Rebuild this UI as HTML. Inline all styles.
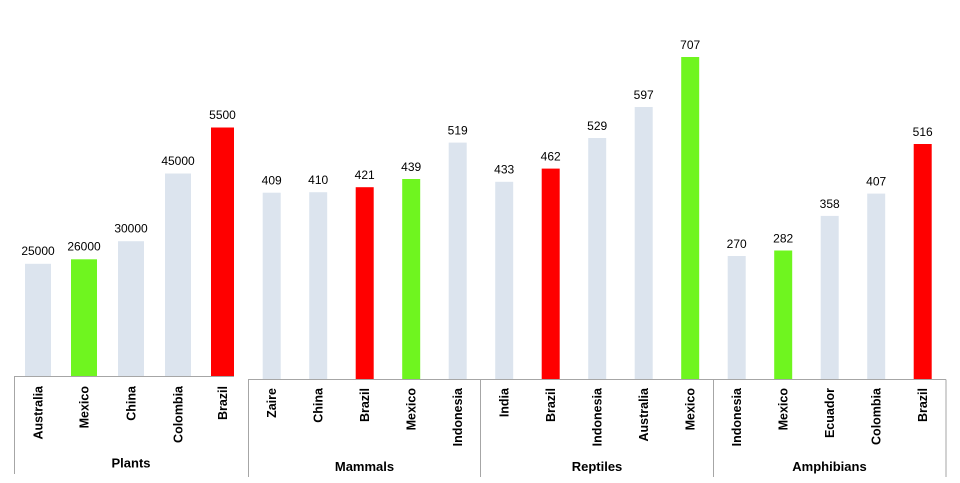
<!DOCTYPE html>
<html>
<head>
<meta charset="utf-8">
<style>
html,body{margin:0;padding:0;background:#fff;}
svg{display:block;}
text{font-family:"Liberation Sans",sans-serif;fill:#000;}
.v{font-size:12px;text-anchor:middle;}
.c{font-size:12.5px;font-weight:bold;text-anchor:end;}
.g{font-size:13px;font-weight:bold;text-anchor:middle;}
</style>
</head>
<body>
<svg width="960" height="483" viewBox="0 0 960 483" xmlns="http://www.w3.org/2000/svg">
<rect width="960" height="483" fill="#fff"/>
<!-- Plants chart -->
<g>
<rect x="25" y="263.8" width="26" height="112.7" fill="#dce4ee"/>
<rect x="71" y="259.3" width="26" height="117.2" fill="#6ff51f"/>
<rect x="118" y="241.2" width="26" height="135.3" fill="#dce4ee"/>
<rect x="165" y="173.5" width="26" height="203" fill="#dce4ee"/>
<rect x="211" y="127.5" width="23" height="249" fill="#ff0000"/>
<text class="v" x="38" y="255">25000</text>
<text class="v" x="84" y="250.5">26000</text>
<text class="v" x="131" y="232.5">30000</text>
<text class="v" x="178" y="165">45000</text>
<text class="v" x="222.5" y="119">5500</text>
<line x1="14" y1="376.5" x2="234" y2="376.5" stroke="#a6a6a6" stroke-width="1"/>
<line x1="14.5" y1="376.5" x2="14.5" y2="474" stroke="#a6a6a6" stroke-width="1"/>
<text class="c" transform="rotate(-90 42.5 386)" x="42.5" y="386">Australia</text>
<text class="c" transform="rotate(-90 88.5 386)" x="88.5" y="386">Mexico</text>
<text class="c" transform="rotate(-90 135.5 386)" x="135.5" y="386">China</text>
<text class="c" transform="rotate(-90 182.5 386)" x="182.5" y="386">Colombia</text>
<text class="c" transform="rotate(-90 227 386)" x="227" y="386">Brazil</text>
<text class="g" x="131" y="467.5">Plants</text>
</g>
<!-- Second chart -->
<g>
<line x1="248" y1="379.5" x2="946" y2="379.5" stroke="#a6a6a6" stroke-width="1"/>
<line x1="248.5" y1="379.5" x2="248.5" y2="477" stroke="#a6a6a6" stroke-width="1"/>
<line x1="480.5" y1="379.5" x2="480.5" y2="477" stroke="#a6a6a6" stroke-width="1"/>
<line x1="713.5" y1="379.5" x2="713.5" y2="477" stroke="#a6a6a6" stroke-width="1"/>
<line x1="946" y1="379.5" x2="946" y2="477" stroke="#a6a6a6" stroke-width="1"/>

<!-- Mammals -->
<rect x="262.7" y="192.7" width="18" height="186.3" fill="#dce4ee"/>
<rect x="309.2" y="192.2" width="18" height="186.8" fill="#dce4ee"/>
<rect x="355.7" y="187.2" width="18" height="191.8" fill="#ff0000"/>
<rect x="402.2" y="179" width="18" height="200" fill="#6ff51f"/>
<rect x="448.7" y="142.6" width="18" height="236.4" fill="#dce4ee"/>
<text class="v" x="271.7" y="184.5">409</text>
<text class="v" x="318.2" y="184">410</text>
<text class="v" x="364.7" y="179">421</text>
<text class="v" x="411.2" y="171">439</text>
<text class="v" x="457.7" y="134.5">519</text>

<!-- Reptiles -->
<rect x="495.2" y="181.8" width="18" height="197.2" fill="#dce4ee"/>
<rect x="541.7" y="168.6" width="18" height="210.4" fill="#ff0000"/>
<rect x="588.2" y="138" width="18" height="241" fill="#dce4ee"/>
<rect x="634.7" y="107" width="18" height="272" fill="#dce4ee"/>
<rect x="681.2" y="57" width="18" height="322" fill="#6ff51f"/>
<text class="v" x="504.2" y="173.5">433</text>
<text class="v" x="550.7" y="160.5">462</text>
<text class="v" x="597.2" y="130">529</text>
<text class="v" x="643.7" y="99">597</text>
<text class="v" x="690.2" y="49">707</text>

<!-- Amphibians -->
<rect x="727.7" y="256" width="18" height="123" fill="#dce4ee"/>
<rect x="774.2" y="250.5" width="18" height="128.5" fill="#6ff51f"/>
<rect x="820.7" y="215.9" width="18" height="163.1" fill="#dce4ee"/>
<rect x="867.2" y="193.6" width="18" height="185.4" fill="#dce4ee"/>
<rect x="913.7" y="144" width="18" height="235" fill="#ff0000"/>
<text class="v" x="736.7" y="248">270</text>
<text class="v" x="783.2" y="242.5">282</text>
<text class="v" x="829.7" y="208">358</text>
<text class="v" x="876.2" y="185.5">407</text>
<text class="v" x="922.7" y="136">516</text>

<!-- category labels -->
<text class="c" transform="rotate(-90 276.2 388)" x="276.2" y="388">Zaire</text>
<text class="c" transform="rotate(-90 322.7 388)" x="322.7" y="388">China</text>
<text class="c" transform="rotate(-90 369.2 388)" x="369.2" y="388">Brazil</text>
<text class="c" transform="rotate(-90 415.7 388)" x="415.7" y="388">Mexico</text>
<text class="c" transform="rotate(-90 462.2 388)" x="462.2" y="388">Indonesia</text>
<text class="c" transform="rotate(-90 508.7 388)" x="508.7" y="388">India</text>
<text class="c" transform="rotate(-90 555.2 388)" x="555.2" y="388">Brazil</text>
<text class="c" transform="rotate(-90 601.7 388)" x="601.7" y="388">Indonesia</text>
<text class="c" transform="rotate(-90 648.2 388)" x="648.2" y="388">Australia</text>
<text class="c" transform="rotate(-90 694.7 388)" x="694.7" y="388">Mexico</text>
<text class="c" transform="rotate(-90 741.2 388)" x="741.2" y="388">Indonesia</text>
<text class="c" transform="rotate(-90 787.7 388)" x="787.7" y="388">Mexico</text>
<text class="c" transform="rotate(-90 834.2 388)" x="834.2" y="388">Ecuador</text>
<text class="c" transform="rotate(-90 880.7 388)" x="880.7" y="388">Colombia</text>
<text class="c" transform="rotate(-90 927.2 388)" x="927.2" y="388">Brazil</text>

<text class="g" x="364.5" y="471">Mammals</text>
<text class="g" x="597" y="471">Reptiles</text>
<text class="g" x="829.5" y="471">Amphibians</text>
</g>
</svg>
</body>
</html>
